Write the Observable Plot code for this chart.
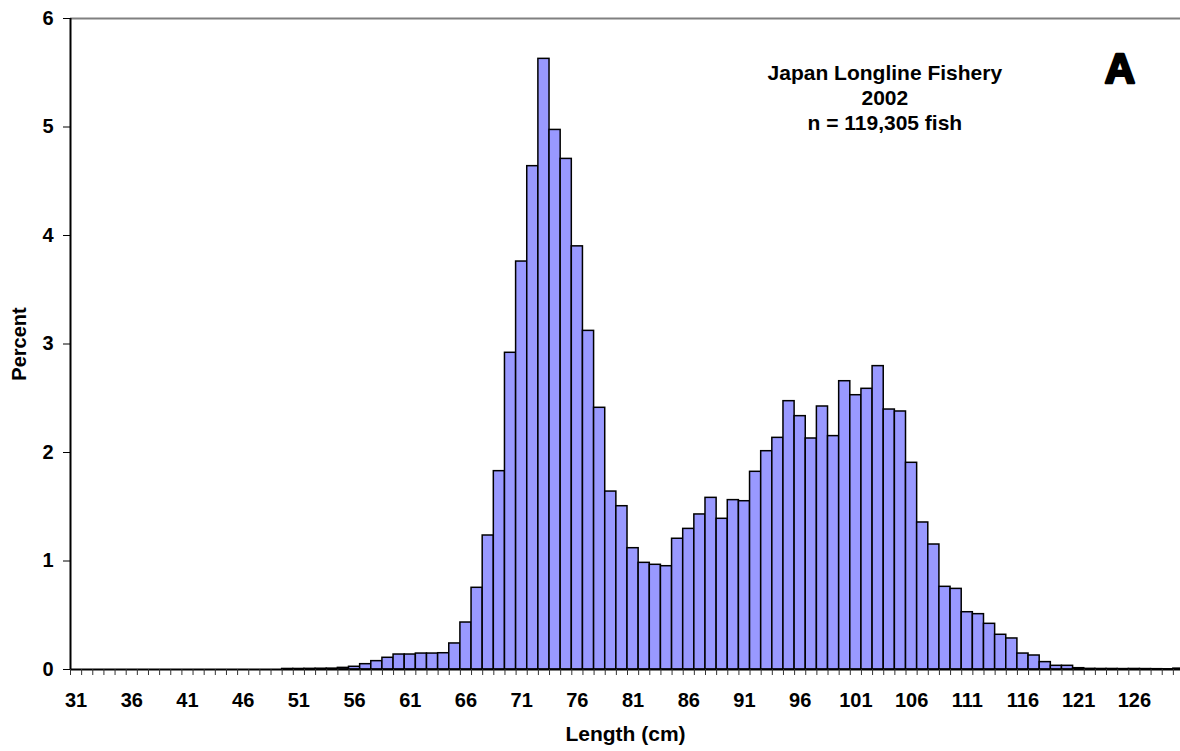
<!DOCTYPE html>
<html><head><meta charset="utf-8">
<script src="https://cdn.jsdelivr.net/npm/d3@7"></script>
<script src="https://cdn.jsdelivr.net/npm/@observablehq/plot@0.6"></script>
<style>html,body{margin:0;padding:0;background:#fff;overflow:hidden}</style>
</head><body><div id="chart"></div>
<script>
// Length classes (cm), one bar each
const lengths = d3.range(31, 131);
// Percent of fish in each length class (31 .. 130 cm)
const percent = [
  0,0,0,0,0,0,0,0,0,0,            // 31-40
  0,0,0,0,0,0,0,0,0,              // 41-49
  0.005,0.005,0.006,0.007,0.008,  // 50-54
  0.015,0.025,0.049,0.077,0.108,  // 55-59
  0.138,0.138,0.147,0.147,0.150,  // 60-64
  0.240,0.433,0.753,1.235,1.828,  // 65-69
  2.919,3.760,4.639,5.628,4.973,  // 70-74
  4.706,3.900,3.121,2.412,1.640,  // 75-79
  1.505,1.118,0.983,0.965,0.952,  // 80-84
  1.205,1.296,1.429,1.582,1.389,  // 85-89
  1.561,1.551,1.822,2.012,2.135,  // 90-94
  2.473,2.335,2.129,2.424,2.151,  // 95-99
  2.657,2.528,2.587,2.796,2.396,  // 100-104
  2.378,1.905,1.355,1.152,0.762,  // 105-109
  0.743,0.528,0.510,0.421,0.320,  // 110-114
  0.286,0.147,0.129,0.068,0.034,  // 115-119
  0.034,0.012,0.006,0.005,0.005,  // 120-124
  0.004,0.005,0.004,0.003,0.002,  // 125-129
  0.008                           // 130
];
const tickLabels = [31,36,41,46,51,56,61,66,71,76,81,86,91,96,101,106,111,116,121,126];
const yTicks = [0,1,2,3,4,5,6];
const titleLines = "Japan Longline Fishery\n2002\nn = 119,305 fish";
const panelLetter = "A";

const data = lengths.map((L, i) => ({length: L, pct: percent[i]}));
// the last class is cut off by the right edge of the chart
const lo = lengths[0] - 0.5, hi = 130.14;
const boundaries = lengths.map(L => L - 0.5).filter(b => b <= hi);

const chart = Plot.plot({
  width: 1180, height: 751,
  marginLeft: 70, marginRight: 0, marginTop: 18, marginBottom: 82,
  style: {fontFamily: "'Liberation Sans', Arial, sans-serif", fontWeight: "bold", fontSize: "19px", background: "white", color: "black"},
  x: {type: "linear", domain: [lo, hi]},
  y: {domain: [0, 6]},
  marks: [
    Plot.ruleY([6], {stroke: "#808080", strokeWidth: 2}),
    Plot.rectY(data.filter(d => d.pct > 0), {x1: d => d.length - 0.5, x2: d => d.length + 0.5, y: "pct", fill: "#9999ff", stroke: "black", strokeWidth: 1.5, clip: true}),
    Plot.ruleY([0], {stroke: "black", strokeWidth: 2}),
    Plot.ruleX([lo], {stroke: "black", strokeWidth: 2}),
    Plot.axisY({ticks: yTicks, tickSize: 7, tickPadding: 10, tickFormat: d3.format("d"), label: null, fontSize: 20}),
    Plot.axisX({ticks: boundaries, tickSize: 6, tickFormat: () => "", label: null, stroke: "#333"}),
    Plot.axisX({ticks: tickLabels, tickSize: 0, tickPadding: 23, tickFormat: d3.format("d"), label: null, fontSize: 20}),
    Plot.text(["Percent"], {frameAnchor: "left", dx: -51, rotate: -90, textAnchor: "middle", lineAnchor: "middle", fontSize: 20}),
    Plot.text(["Length (cm)"], {frameAnchor: "bottom", dy: 65, textAnchor: "middle", lineAnchor: "middle", fontSize: 21}),
    Plot.text([titleLines], {x: 103.6, y: 5.277, fontSize: 21, lineHeight: 1.2}),
    Plot.text([panelLetter], {x: 124.7, y: 5.53, fontSize: 42, fill: "black", stroke: "black", strokeWidth: 2.5})
  ]
});
document.getElementById("chart").append(chart);
</script>
</body></html>
